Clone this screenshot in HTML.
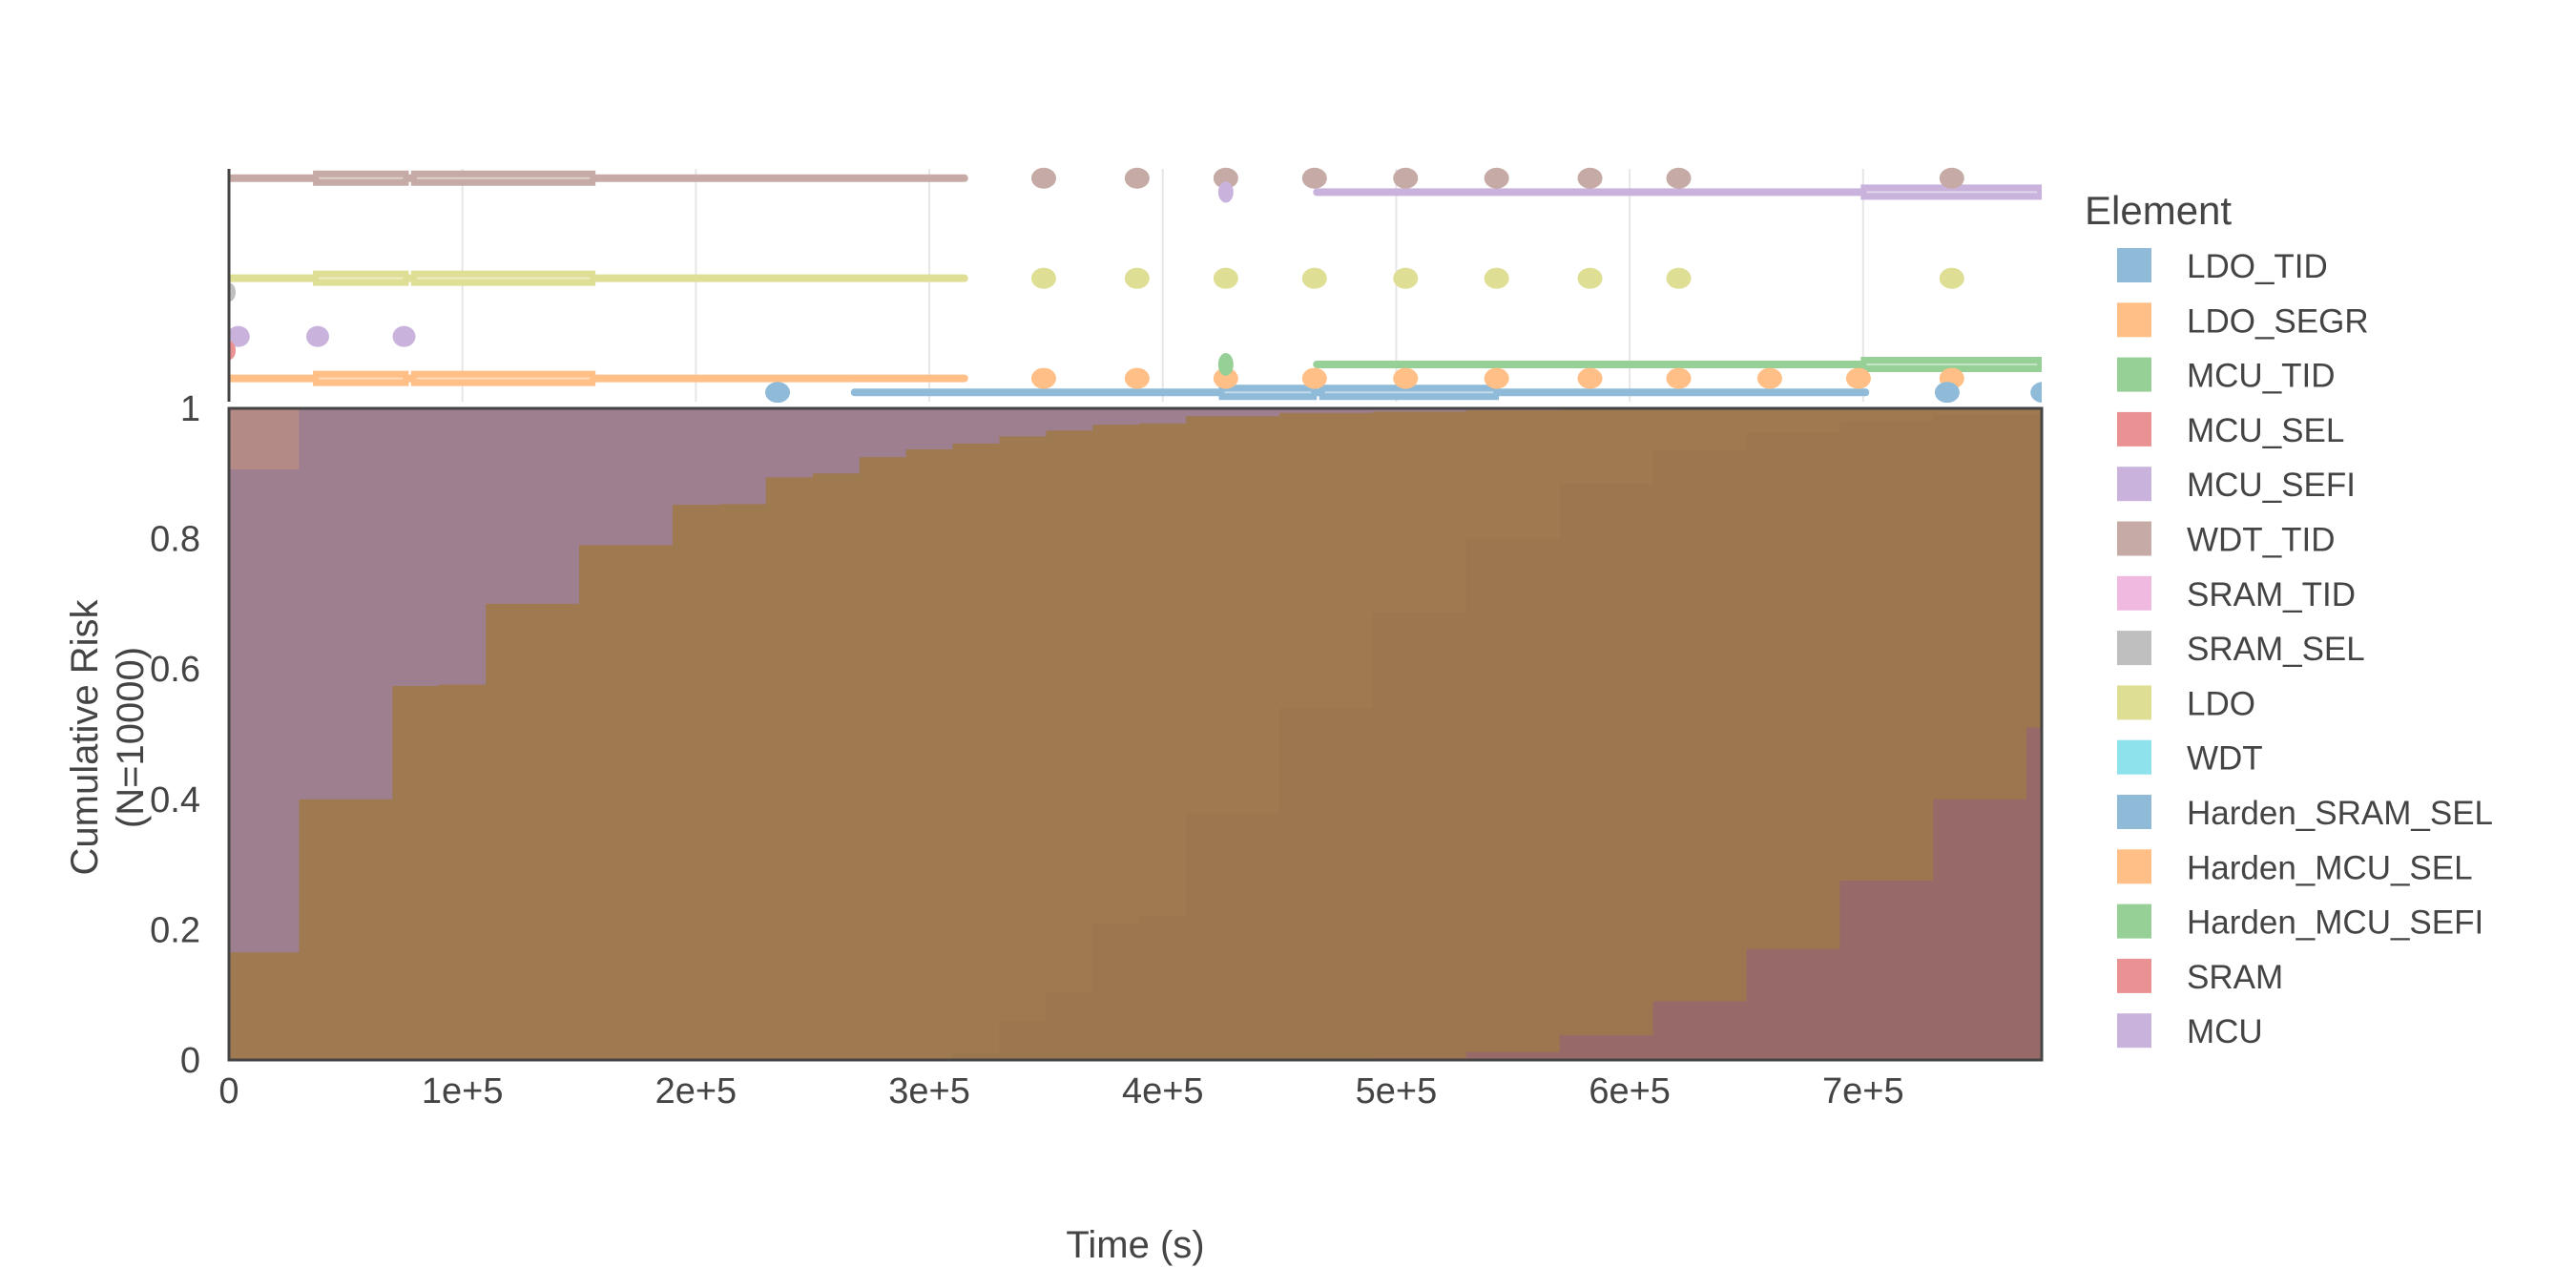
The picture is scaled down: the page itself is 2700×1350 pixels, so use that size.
<!DOCTYPE html>
<html><head><meta charset="utf-8">
<style>
html,body{margin:0;padding:0;background:#fff;}
svg{display:block;font-family:"Liberation Sans","DejaVu Sans",sans-serif;}
</style></head>
<body>
<svg id="chart" width="2700" height="1350" viewBox="0 0 2700 1350" xmlns="http://www.w3.org/2000/svg">
<defs>
<clipPath id="mainClip"><rect x="240" y="428" width="1900" height="683"/></clipPath>
<clipPath id="topClip"><rect x="240" y="170" width="1900" height="252"/></clipPath>
</defs>
<g id="topPanel"></g>
<g id="mainPanel"></g>
<g id="axes"></g>
<text x="1190" y="1318" font-size="40" fill="#444" text-anchor="middle">Time (s)</text>
<text transform="translate(112,773) rotate(-90)" font-size="40" fill="#444" text-anchor="middle"><tspan x="0" dy="-10">Cumulative Risk</tspan><tspan x="0" dy="48">(N=10000)</tspan></text>
<g id="legend">
<text x="2185" y="235" font-size="42" fill="#444">Element</text>
</g>
</svg>
<script>
const NS="http://www.w3.org/2000/svg";
// ---- data ----
const xTicks=[0,100000,200000,300000,400000,500000,600000,700000];
const xTickLabels=["0","1e+5","2e+5","3e+5","4e+5","5e+5","6e+5","7e+5"];
const yTicks=[0,0.2,0.4,0.6,0.8,1];
const yTickLabels=["0","0.2","0.4","0.6","0.8","1"];
const lightStarts=[0,30000,70000,90000,110000,150000,190000,210000,230000,250000,270000,290000,310000,330000,350000,370000,390000,410000,450000,490000,530000,570000];
const lightValues=[0.165,0.40,0.574,0.576,0.70,0.79,0.852,0.853,0.894,0.90,0.925,0.937,0.946,0.957,0.966,0.975,0.977,0.988,0.993,0.995,0.997,1.0];
const darkStarts=[310000,330000,350000,370000,390000,410000,450000,490000,530000,570000,610000,650000,690000,730000];
const darkValues=[0.01,0.06,0.104,0.21,0.22,0.378,0.54,0.687,0.80,0.884,0.935,0.963,0.98,0.99];
const redStarts=[450000,490000,530000,570000,610000,650000,690000,730000,770000];
const redValues=[0.001,0.003,0.012,0.038,0.09,0.17,0.275,0.40,0.51];
const pinkStart=[0];const pinkEnd=[30000];const pinkLow=[0.906];
const legendNames=["LDO_TID","LDO_SEGR","MCU_TID","MCU_SEL","MCU_SEFI","WDT_TID","SRAM_TID","SRAM_SEL","LDO","WDT","Harden_SRAM_SEL","Harden_MCU_SEL","Harden_MCU_SEFI","SRAM","MCU"];
const legendColors=["#8fbbd9","#ffbf86","#96d096","#ea9293","#c9b3dd","#c5aaa5","#f0bae0","#bfbfbf","#dede94","#8ee2eb","#8fbbd9","#ffbf86","#96d096","#ea9293","#c9b3dd"];
// timeline segments
const segColor=["#c5aaa5","#c5aaa5","#c5aaa5","#dede94","#dede94","#dede94","#ffbf86","#ffbf86","#ffbf86","#8fbbd9","#8fbbd9","#8fbbd9","#c9b3dd","#c9b3dd","#96d096","#96d096"];
const segLane=[0.96,0.96,0.96,0.53,0.53,0.53,0.10,0.10,0.10,0.04,0.04,0.04,0.90,0.90,0.16,0.16];
const segStart=[0,36000,78000,0,36000,78000,0,36000,78000,268000,424000,467000,466000,699000,466000,699000];
const segEnd=[315000,77000,157000,315000,77000,157000,315000,77000,157000,701000,466000,544000,777000,777000,777000,777000];
const segThick=[0,1,1,0,1,1,0,1,1,0,1,1,0,1,0,1];
const dotTimesMain=[349000,389000,427000,465000,504000,543000,583000,621000,738000];
const dotTimesOrange=[349000,389000,427000,465000,504000,543000,583000,621000,660000,698000,738000];
const dotTimesBlue=[235000,736000,777000];
const dotTimesLav=[4000,38000,75000];
const dotTimesSingle=[427000];
// ---- scales ----
const X0=240,X1=2140,XMAX=776500;
const Y0=1111,Y1=428;
const TY0=421,TY1=177;
function sx(t){return X0+(X1-X0)*t/XMAX;}
function sy(v){return Y0-(Y0-Y1)*v;}
function ty(v){return TY0-(TY0-TY1)*v;}
function el(tag,attrs,parent){const e=document.createElementNS(NS,tag);for(const k in attrs)e.setAttribute(k,attrs[k]);parent.appendChild(e);return e;}
const main=document.getElementById('mainPanel');
const top_=document.getElementById('topPanel');
const axes=document.getElementById('axes');
const bg=el('rect',{x:sx(0),y:sy(1),width:sx(XMAX)-sx(0),height:sy(0)-sy(1),fill:'#9d7f90'},main);


function stepPath(starts,vals){
  let d='M'+sx(starts[0])+','+sy(0);
  for(let i=0;i<starts.length;i++){
    const end=i+1<starts.length?starts[i+1]:XMAX;
    d+=' L'+sx(starts[i])+','+sy(vals[i])+' L'+sx(Math.min(end,XMAX))+','+sy(vals[i]);
  }
  d+=' L'+sx(XMAX)+','+sy(0)+' Z';return d;
}
const g=el('g',{'clip-path':'url(#mainClip)'},main);
const pr=el('rect',{x:sx(pinkStart[0]),y:sy(1),width:sx(pinkEnd[0])-sx(pinkStart[0]),height:sy(pinkLow[0])-sy(1),fill:'#b48a86'},g);


const lp=el('path',{d:stepPath(lightStarts,lightValues),fill:'#9f794f'},g);


const dp=el('path',{d:stepPath(darkStarts,darkValues),fill:'#9b764f'},g);


const rp=el('path',{d:stepPath(redStarts,redValues),fill:'#976a69'},g);


const fr=el('rect',{x:X0,y:Y1,width:X1-X0,height:Y0-Y1,fill:'none',stroke:'#444',"stroke-width":3},axes);


for(let i=1;i<xTicks.length;i++){
  const gl=el('line',{x1:sx(xTicks[i]),x2:sx(xTicks[i]),y1:TY1,y2:TY0,stroke:'#e6e6e6',"stroke-width":2},top_);
  
  
}
const tl=el('line',{x1:X0,x2:X0,y1:TY1,y2:TY0,stroke:'#444',"stroke-width":3},axes);


const tg=el('g',{'clip-path':'url(#topClip)'},top_);
for(let i=0;i<segStart.length;i++){
  const y=ty(segLane[i]);
  const w=segThick[i]?16:8;
  const s=el('line',{x1:sx(segStart[i]),x2:sx(segEnd[i]),y1:y,y2:y,stroke:segColor[i],"stroke-width":w,"stroke-linecap":segThick[i]?'butt':'round'},tg);
  
  
  if(segThick[i]){
    const c=el('line',{x1:sx(segStart[i])+6,x2:sx(segEnd[i])-6,y1:y,y2:y,stroke:'#ffffff',"stroke-opacity":0.45,"stroke-width":2},tg);
    
    
  }
}
function dots(times,lane,color,rx,ry){
  for(const t of times){
    const d=el('ellipse',{cx:sx(t),cy:ty(lane),rx:rx,ry:ry,fill:color},tg);
    
    
  }
}
dots(dotTimesMain,0.96,'#c5aaa5',13,11);
dots(dotTimesMain,0.53,'#dede94',13,11);
dots(dotTimesOrange,0.10,'#ffbf86',13,11);
dots(dotTimesBlue,0.04,'#8fbbd9',13,11);
dots(dotTimesSingle,0.90,'#c9b3dd',8,11);
dots(dotTimesSingle,0.16,'#96d096',8,12);
dots(dotTimesLav,0.28,'#c9b3dd',12,11);
dots([0],0.47,'#bfbfbf',7,10);
dots([0],0.22,'#ea9293',7,10);
for(let i=0;i<xTicks.length;i++){
  const t=el('text',{x:sx(xTicks[i]),y:1156,"font-size":38,fill:'#444',"text-anchor":'middle'},axes);
  
  
  t.textContent=xTickLabels[i];
}
for(let i=0;i<yTicks.length;i++){
  const t=el('text',{x:210,y:sy(yTicks[i])+13,"font-size":38,fill:'#444',"text-anchor":'end'},axes);
  
  
  t.textContent=yTickLabels[i];
}
const lg=document.getElementById('legend');
for(let i=0;i<legendNames.length;i++){
  const y=260+i*57.3;
  const r=el('rect',{x:2219,y:y,width:36,height:36,fill:legendColors[i]},lg);
  
  
  const t=el('text',{x:2292,y:y+31,"font-size":35,fill:'#444'},lg);
  
  
  t.textContent=legendNames[i];
}
</script>
</body></html>
